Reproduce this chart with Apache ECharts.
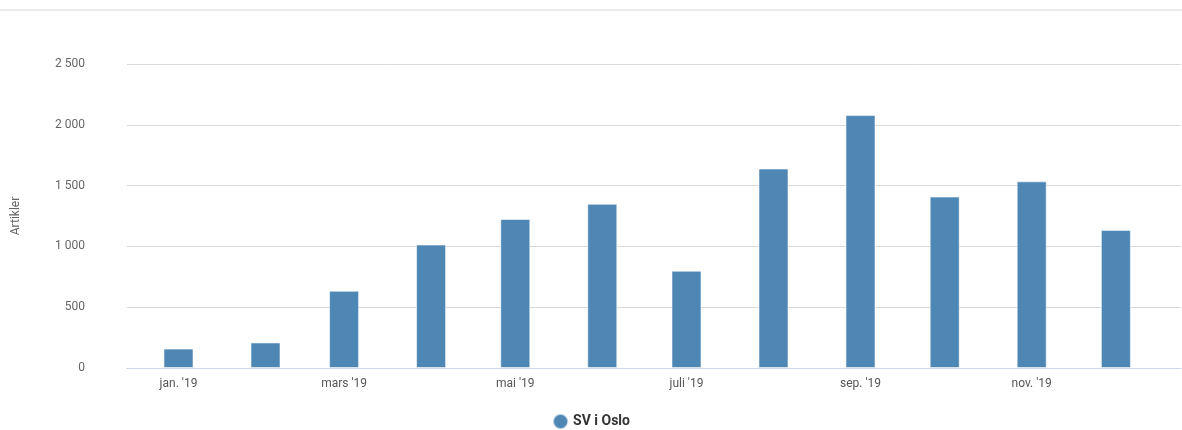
<!DOCTYPE html>
<html>
<head>
<meta charset="utf-8">
<script src="https://cdn.jsdelivr.net/npm/echarts@6/dist/echarts.min.js"></script>
<style>
  html, body { margin: 0; padding: 0; background: #fff; }
  #main { width: 1182px; height: 430px; }
</style>
</head>
<body>
<div id="main"></div>
<script>
// months of 2019 (bars sit on the first day of each month)
const months = [0, 1, 2, 3, 4, 5, 6, 7, 8, 9, 10, 11];
const values = [160, 210, 635, 1015, 1225, 1350, 800, 1640, 2080, 1410, 1535, 1135];
const labelMonths = [0, 2, 4, 6, 8, 10];
const tickLabels = ["jan. '19", "mars '19", "mai '19", "juli '19", "sep. '19", "nov. '19"];
const seriesName = 'SV i Oslo';

const DAY = 86400000;
const monthStart = m => Date.UTC(2019, m, 1);

const chartDom = document.getElementById('main');
const myChart = echarts.init(chartDom);

const option = {
  animation: false,
  textStyle: { fontFamily: 'Roboto, sans-serif' },
  graphic: [
    { type: 'line', shape: { x1: 0, y1: 10, x2: 1182, y2: 10 }, style: { stroke: '#ebebeb', lineWidth: 2 } }
  ],
  grid: { left: 127, right: 1, top: 64, bottom: 62 },
  legend: {
    top: 413,
    left: 'center',
    padding: 0,
    icon: 'circle',
    itemWidth: 15,
    itemHeight: 15,
    itemGap: 6,
    textStyle: { color: '#333', fontSize: 14, fontWeight: 'bold' }
  },
  xAxis: {
    type: 'value',
    min: monthStart(0) - 18.35 * DAY,
    max: monthStart(11) + 23.2 * DAY,
    axisLine: { show: true, lineStyle: { color: '#ccd6eb' } },
    axisTick: { show: false },
    splitLine: { show: false },
    axisLabel: {
      customValues: labelMonths.map(monthStart),
      color: '#555',
      fontSize: 12,
      margin: 10,
      formatter: v => {
        const i = labelMonths.map(monthStart).indexOf(v);
        return i >= 0 ? tickLabels[i] : '';
      }
    }
  },
  yAxis: {
    type: 'value',
    min: 0,
    max: 2500,
    interval: 500,
    name: 'Artikler',
    nameLocation: 'middle',
    nameGap: 105,
    nameRotate: 90,
    nameTextStyle: { color: '#666', fontSize: 12 },
    axisLine: { show: false },
    axisTick: { show: false },
    axisLabel: {
      color: '#666',
      fontSize: 12,
      margin: 42,
      formatter: v => String(v).replace(/\B(?=(\d{3})+(?!\d))/g, ' ')
    },
    splitLine: { lineStyle: { color: '#d9d9d9' } }
  },
  series: [
    {
      name: seriesName,
      type: 'bar',
      barWidth: 30,
      data: months.map((m, i) => [monthStart(m), values[i]]),
      itemStyle: { color: '#4e86b4', borderColor: 'rgba(255,255,255,0.55)', borderWidth: 1 }
    }
  ]
};

option && myChart.setOption(option);
</script>
</body>
</html>
